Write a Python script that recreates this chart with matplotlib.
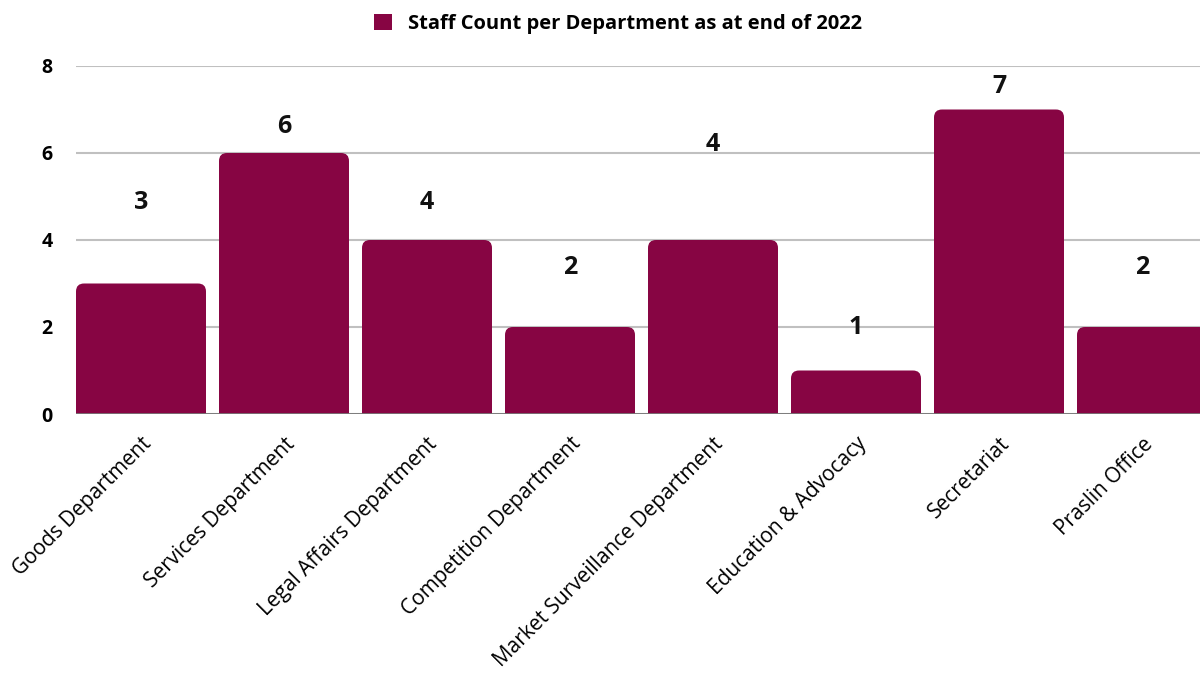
import numpy as np
import matplotlib.pyplot as plt
from matplotlib.patches import FancyBboxPatch, Rectangle, Patch

# staff per department, end of 2022
departments = ["Goods Department", "Services Department", "Legal Affairs Department",
               "Competition Department", "Market Surveillance Department",
               "Education & Advocacy", "Secretariat", "Praslin Office"]
staff = [3, 6, 4, 2, 4, 1, 7, 2]
# heights at which the count labels sit
label_y = [4.87, 6.62, 4.87, 3.36, 6.2, 1.98, 7.52, 3.36]
yticks = [0, 2, 4, 6, 8]

BAR = "#870543"
plt.rcParams['font.family'] = ['Open Sans', 'DejaVu Sans']

fig = plt.figure(figsize=(12, 6.73), dpi=100)
ax = fig.add_axes([76 / 1200, 259 / 673, 1 - 76 / 1200, (414 - 66) / 673])

x = np.arange(len(departments))
width = 130 / 143
bars = ax.bar(x, staff, width=width, color=BAR, zorder=3)

# rounded top corners: replace each bar with a rounded box, square bottom
px_x, px_y = 143.0, 43.5
r = 8.0 / px_x
for b in bars:
    b.set_visible(False)
    x0, w, h = b.get_x(), b.get_width(), b.get_height()
    ax.add_patch(FancyBboxPatch((x0, 0), w, h,
                                boxstyle=f"round,pad=0,rounding_size={r}",
                                mutation_aspect=px_x / px_y,
                                fc=BAR, ec="none", zorder=3))
    ax.add_patch(Rectangle((x0, 0), w, min(h, 0.5), fc=BAR, ec="none", zorder=3))

for xi, v, ly in zip(x, staff, label_y):
    ax.text(xi, ly, str(v), ha="center", va="center", fontsize=18,
            fontweight="bold", color="#111111")

ax.set_xlim(-width / 2, (1200 - 76) / 143 - width / 2)
ax.set_ylim(0, 8)
ax.set_yticks(yticks)
ax.set_yticklabels([str(t) for t in yticks], fontsize=14, fontweight="bold")
ax.tick_params(axis="y", length=0, pad=17)
ax.grid(axis="y", color="#c0c0c0", linewidth=1.5, zorder=0)
ax.axhline(0, color="#777777", linewidth=2, zorder=4)

ax.set_xticks(x)
ax.set_xticklabels(departments, rotation=45, ha="right", rotation_mode="anchor",
                   fontsize=15)
ax.tick_params(axis="x", length=0, pad=14)
for s in ax.spines.values():
    s.set_visible(False)

fig.legend(handles=[Patch(fc=BAR, ec="none")],
           labels=["Staff Count per Department as at end of 2022"],
           loc="center", bbox_to_anchor=(0.515, 0.965), frameon=False,
           prop={"size": 14.5, "weight": "bold"}, handlelength=0.85, handleheight=0.85,
           handletextpad=0.8)

fig.savefig("out.png", dpi=100)
